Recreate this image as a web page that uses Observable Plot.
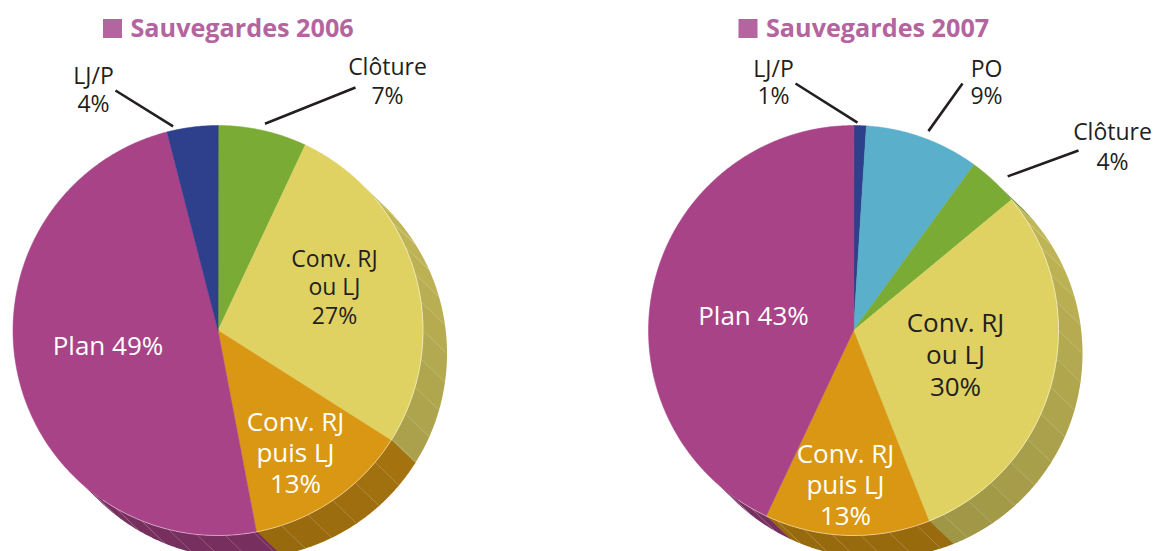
<!DOCTYPE html>
<html><head><meta charset="utf-8">
<script src="https://cdn.jsdelivr.net/npm/d3@7"></script>
<script src="https://cdn.jsdelivr.net/npm/@observablehq/plot@0.6"></script>
<style>body{margin:0;background:#fff}</style>
</head><body><div id="chart"></div>
<script>
// ---- data ----
const years = ["2006", "2007"];
const titles = ["Sauvegardes 2006", "Sauvegardes 2007"];
const categories2006 = ["Clôture", "Conv. RJ ou LJ", "Conv. RJ puis LJ", "Plan", "LJ/P"];
const values2006 = [7, 27, 13, 49, 4];
const categories2007 = ["LJ/P", "PO", "Clôture", "Conv. RJ ou LJ", "Conv. RJ puis LJ", "Plan"];
const values2007 = [1, 9, 4, 30, 13, 43];

// ---- styles / layout ----
const colors = {
  "Clôture": "#7aab35",
  "Conv. RJ ou LJ": "#dfd263",
  "Conv. RJ puis LJ": "#d99714",
  "Plan": "#a94387",
  "LJ/P": "#2e3f8c",
  "PO": "#5aafca"
};
const labelText = {
  "Clôture": "Clôture\n",
  "Conv. RJ ou LJ": "Conv. RJ\nou LJ\n",
  "Conv. RJ puis LJ": "Conv. RJ\npuis LJ\n",
  "Plan": "Plan ",
  "LJ/P": "LJ/P\n",
  "PO": "PO\n"
};
const W = 1155, H = 551;
const centers = {"2006": [217.5, 330], "2007": [853, 330]};
const radius = 205;
const depth = [24, 23];
const rimRange = [44, 224];
const facetStep = 8;
const dark = "#231f20";
// label placement relative to the pie centre
const labelLayout = [
  {year: "2006", cat: "Clôture", dx: 169.5, dy: -250, size: 23, fill: dark, lh: 1.24},
  {year: "2006", cat: "LJ/P", dx: -124.5, dy: -241.4, size: 23, fill: dark, lh: 1.24},
  {year: "2006", cat: "Conv. RJ ou LJ", dx: 116.5, dy: -44.4, size: 23, fill: dark, lh: 1.24},
  {year: "2006", cat: "Conv. RJ puis LJ", dx: 77.5, dy: 121.7, size: 26, fill: "white", lh: 1.2},
  {year: "2006", cat: "Plan", dx: -110, dy: 14.7, size: 26, fill: "white", lh: 1.2},
  {year: "2007", cat: "LJ/P", dx: -80, dy: -249, size: 23, fill: dark, lh: 1.2},
  {year: "2007", cat: "PO", dx: 133, dy: -249, size: 23, fill: dark, lh: 1.2},
  {year: "2007", cat: "Clôture", dx: 259, dy: -185.4, size: 23, fill: dark, lh: 1.3},
  {year: "2007", cat: "Conv. RJ ou LJ", dx: 102, dy: 23.7, size: 26, fill: dark, lh: 1.23},
  {year: "2007", cat: "Conv. RJ puis LJ", dx: -8, dy: 153.4, size: 26, fill: "white", lh: 1.2},
  {year: "2007", cat: "Plan", dx: -100, dy: -15.3, size: 26, fill: "white", lh: 1.2}
];
// leader lines: start near the pie edge (angle in degrees, gap beyond radius), end relative to centre
const leaderLayout = [
  {year: "2006", angle: 12.8, gap: 7, ex: 137.5, ey: -243},
  {year: "2006", angle: 347.6, gap: 4, ex: -102.5, ey: -240},
  {year: "2007", angle: 1.1, gap: 3, ex: -58, ey: -247},
  {year: "2007", angle: 20.6, gap: 8, ex: 109, ey: -247},
  {year: "2007", angle: 45, gap: 13, ex: 225, ey: -180}
];

// ---- geometry from data ----
const deg = Math.PI / 180;
const series = [
  {year: years[0], title: titles[0], cats: categories2006, vals: values2006},
  {year: years[1], title: titles[1], cats: categories2007, vals: values2007}
];
const pie = d3.pie().sort(null).value(d => d.value);

const faces = [], rims = [], facets = [], edges = [], labels = [], leaders = [], titleRows = [];
for (const s of series) {
  const [cx, cy] = centers[s.year];
  const pt = (a, r) => [cx + r * Math.sin(a), cy - r * Math.cos(a)];
  const arcPts = (a0, a1, r) => {
    const n = Math.max(2, Math.ceil(Math.abs(a1 - a0) / (0.5 * deg)));
    return d3.range(n + 1).map(k => pt(a0 + (a1 - a0) * k / n, r));
  };
  const rows = s.cats.map((c, i) => ({category: c, value: s.vals[i]}));
  const arcs = pie(rows);
  const total = d3.sum(s.vals);
  titleRows.push({x: cx - 87.5, y: 28, text: s.title});
  const grid = [rimRange[0] * deg];
  for (let g = rimRange[0] + 6; g < rimRange[1]; g += facetStep) grid.push(g * deg);
  grid.push(rimRange[1] * deg);
  for (const a of arcs) {
    const cat = a.data.category;
    const id = s.year + "|" + cat;
    faces.push({id, x: cx, y: cy, fill: colors[cat]});
    for (const [x, y] of arcPts(a.startAngle, a.endAngle, radius)) faces.push({id, x, y, fill: colors[cat]});
    for (let k = 0; k < grid.length - 1; k++) {
      const a0 = Math.max(a.startAngle, grid[k]), a1 = Math.min(a.endAngle, grid[k + 1]);
      if (a1 <= a0) continue;
      const mid = (a0 + a1) / 2 / deg;
      const shade = 0.4 + 0.6 * Math.max(0, Math.min(1, (mid - 55) / 110));
      const fill = d3.color(colors[cat]).darker(shade).formatHex();
      const rid = id + "|rim" + k;
      const b0 = a0 - 0.15 * deg, b1 = a1 + 0.15 * deg;
      const front = arcPts(b0, b1, radius);
      const back = arcPts(b1, b0, radius).map(([x, y]) => [x + depth[0], y + depth[1]]);
      for (const [x, y] of [...front, ...back]) rims.push({id: rid, x, y, fill});
    }
  }
  for (let k = 1; k < grid.length - 1; k++) {
    const [x, y] = pt(grid[k], radius);
    facets.push({x1: x, y1: y, x2: x + depth[0], y2: y + depth[1]});
  }
  for (const [x, y] of arcPts(rimRange[0] * deg + 6 * deg, rimRange[1] * deg - 10 * deg, radius))
    edges.push({id: s.year, x, y});
  for (const l of labelLayout.filter(l => l.year === s.year)) {
    const i = s.cats.indexOf(l.cat);
    labels.push({...l, x: cx + l.dx, y: cy + l.dy,
      text: labelText[l.cat] + Math.round(s.vals[i] / total * 100) + "%"});
  }
  for (const l of leaderLayout.filter(l => l.year === s.year)) {
    const [x1, y1] = pt(l.angle * deg, radius + l.gap);
    leaders.push({x1, y1, x2: cx + l.ex, y2: cy + l.ey});
  }
}

const font = "'Open Sans', 'Noto Sans', sans-serif";
const chart = Plot.plot({
  width: W, height: H,
  margin: 0,
  x: {domain: [0, W], range: [0, W], axis: null},
  y: {domain: [0, H], range: [0, H], axis: null},
  color: {type: "identity"},
  style: {fontFamily: font, background: "white"},
  marks: [
    Plot.line(rims, {x: "x", y: "y", z: "id", fill: "fill", stroke: null, strokeWidth: 0, curve: "linear-closed"}),
    Plot.link(facets, {x1: "x1", y1: "y1", x2: "x2", y2: "y2", stroke: "white", strokeOpacity: 0.25, strokeWidth: 0.8}),
    Plot.line(faces, {x: "x", y: "y", z: "id", fill: "fill", stroke: "fill", strokeWidth: 0.5, curve: "linear-closed"}),
    Plot.line(edges, {x: "x", y: "y", z: "id", stroke: "white", strokeOpacity: 0.45, strokeWidth: 1}),
    Plot.link(leaders, {x1: "x1", y1: "y1", x2: "x2", y2: "y2", stroke: dark, strokeWidth: 2.6}),
    ...labels.map(l => Plot.text([l], {x: "x", y: "y", text: "text", fontSize: l.size, fill: l.fill,
      lineHeight: l.lh, textAnchor: "middle", lineAnchor: "middle", fontFamily: font})),
    Plot.rect(titleRows, {x1: d => d.x - 27, x2: d => d.x - 8, y1: d => d.y - 9, y2: d => d.y + 10, fill: "#b4649e"}),
    Plot.text(titleRows, {x: "x", y: "y", text: "text", textAnchor: "start", fontSize: 25.2, fontWeight: 700,
      fill: "#b4649e", fontFamily: font})
  ]
});
document.getElementById("chart").appendChild(chart);
</script>
</body></html>
